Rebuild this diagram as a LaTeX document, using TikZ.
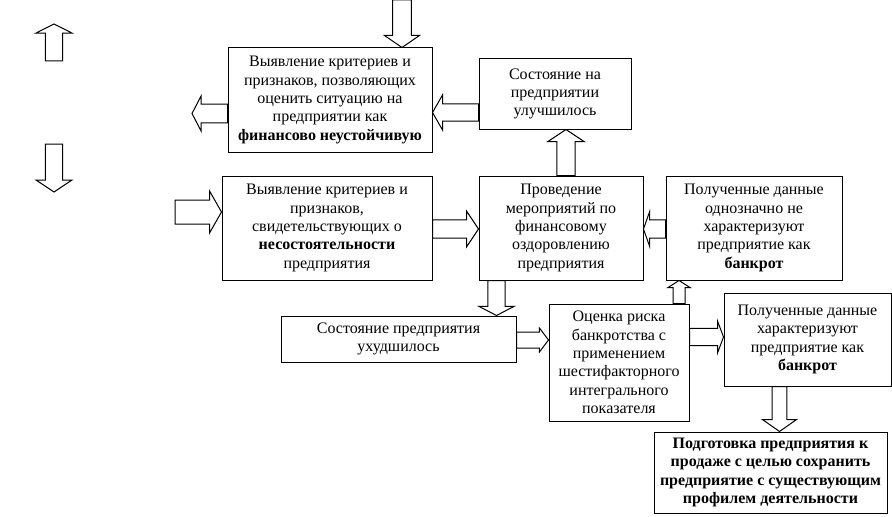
\documentclass[tikz,border=0pt]{standalone}
\usepackage{fontspec}
\setmainfont{Liberation Serif}
\usepackage{tikz}
\usetikzlibrary{positioning,calc}

% hollow block arrow: from, to, shaft half-width, head half-width, head length
\newcommand{\fatarrow}[5]{%
    \path ($(#2)!#5!(#1)$) coordinate (fa-base);
    \draw[blockarrow] ($(#1)!#3!90:(#2)$) -- ($(fa-base)!#3!90:(#2)$)
        -- ($(fa-base)!#4!90:(#2)$) -- (#2) -- ($(fa-base)!#4!-90:(#2)$)
        -- ($(fa-base)!#3!-90:(#2)$) -- ($(#1)!#3!-90:(#2)$) -- cycle;
}

\begin{document}
\begin{tikzpicture}[x=0.75pt,y=-0.75pt,
        box/.style={draw, line width=0.75pt, align=center, inner sep=0pt,
            font={\fontsize{12}{13.8}\selectfont}},
        boxsize/.style 2 args={minimum width=#1*0.75pt, minimum height=#2*0.75pt},
        blockarrow/.style={draw, line width=0.75pt, line join=miter, fill=white}]
    \useasboundingbox (0,0) rectangle (892,517);

    % boxes
    \node[box, boxsize={204}{104}] (unstable) at (330,100) {Выявление критериев и\\признаков, позволяющих\\оценить ситуацию на\\предприятии как\\\textbf{финансово неустойчивую}};
    \node[box, boxsize={152}{70}] (better) at (555,94) {Состояние на\\предприятии\\улучшилось};
    \node[box, boxsize={210}{104}] (insolv) at (327,228) {Выявление критериев и\\признаков,\\свидетельствующих о\\\textbf{несостоятельности}\\предприятия};
    \node[box, boxsize={164}{104}] (recovery) at (561,228) {Проведение\\мероприятий по\\финансовому\\оздоровлению\\предприятия};
    \node[box, boxsize={176}{104}] (notbankrupt) at (754,228) {Полученные данные\\однозначно не\\характеризуют\\предприятие как\\\textbf{банкрот}};
    \node[box, boxsize={235}{46}] (worse) at (398.5,339) {Состояние предприятия\\ухудшилось};
    \node[box, boxsize={140}{117}] (risk) at (619,362.5) {Оценка риска\\банкротства с\\применением\\шестифакторного\\интегрального\\показателя};
    \node[box, boxsize={167}{93}] (bankrupt) at (807.5,339.5) {Полученные данные\\характеризуют\\предприятие как\\\textbf{банкрот}};
    \node[box, boxsize={233}{81}, font={\fontsize{12}{13.8}\selectfont\bfseries}] (sale) at (770.5,472.5) {Подготовка предприятия к\\продаже с целью сохранить\\предприятие с существующим\\профилем деятельности};

    % free ends and levels of the arrows
    \coordinate (topin) at (402,0);
    \coordinate (leftout) at (192,113.5);
    \coordinate (backlvl) at (0,112.5);
    \coordinate (upfrom) at (54,61);
    \coordinate (upto) at (54,24);
    \coordinate (downfrom) at (54,144);
    \coordinate (downto) at (54,192);
    \coordinate (upx) at (566,0);
    \coordinate (leftin) at (175,212);
    \coordinate (fwdlvl) at (0,229);
    \coordinate (dropx) at (496.5,0);
    \coordinate (risklvl) at (0,340);
    \coordinate (riskupx) at (679,0);
    \coordinate (banklvl) at (0,337);
    \coordinate (salex) at (779.5,0);

    % arrows
    \fatarrow{topin}{unstable.north -| topin}{7.1pt}{13.1pt}{9pt}
    \fatarrow{unstable.west |- leftout}{leftout}{7.1pt}{13.1pt}{6.8pt}
    \fatarrow{better.west |- backlvl}{unstable.east |- backlvl}{6.4pt}{13.1pt}{7.5pt}
    \fatarrow{upfrom}{upto}{6.4pt}{13.5pt}{6.8pt}
    \fatarrow{downfrom}{downto}{6.4pt}{13.5pt}{9pt}
    \fatarrow{recovery.north -| upx}{better.south -| upx}{6.8pt}{13.5pt}{9pt}
    \fatarrow{leftin}{insolv.west |- leftin}{9pt}{15.8pt}{9pt}
    \fatarrow{insolv.east |- fwdlvl}{recovery.west |- fwdlvl}{6.8pt}{13.5pt}{9pt}
    \fatarrow{notbankrupt.west |- fwdlvl}{recovery.east |- fwdlvl}{6.8pt}{12.8pt}{4.5pt}
    \fatarrow{recovery.south -| dropx}{worse.north -| dropx}{6.4pt}{13.1pt}{6.8pt}
    \fatarrow{worse.east |- risklvl}{risk.west |- risklvl}{6pt}{9pt}{6.8pt}
    \fatarrow{risk.north -| riskupx}{notbankrupt.south -| riskupx}{4.5pt}{8.3pt}{5.3pt}
    \fatarrow{risk.east |- banklvl}{bankrupt.west |- banklvl}{6.4pt}{12pt}{4.5pt}
    \fatarrow{bankrupt.south -| salex}{sale.north -| salex}{5.6pt}{12.8pt}{9pt}
\end{tikzpicture}
\end{document}
